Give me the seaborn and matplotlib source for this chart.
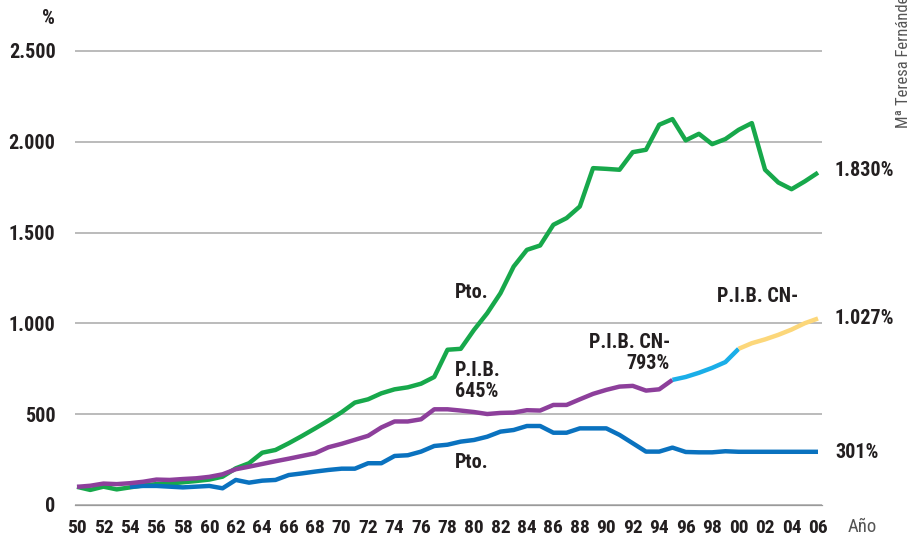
import numpy as np
import pandas as pd
import matplotlib
matplotlib.use("Agg")
import matplotlib.pyplot as plt
import seaborn as sb

# series values (index 1950 = 100)
years = list(range(1950, 2007))
pto_green = [100, 83, 101, 86, 97, 108, 115, 118, 125, 132,
             140, 156, 202, 230, 288, 303, 340, 380, 422, 465,
             511, 564, 582, 615, 637, 648, 668, 705, 855, 860,
             964, 1056, 1166, 1313, 1405, 1429, 1543, 1580, 1644, 1855,
             1851, 1846, 1943, 1956, 2094, 2125, 2008, 2044, 1987, 2015,
             2066, 2103, 1846, 1776, 1739, 1782, 1830]
pib_years = list(range(1950, 1996))
pib = [100, 106, 118, 115, 120, 128, 140, 138, 143, 147,
       155, 169, 197, 211, 226, 241, 255, 270, 285, 318,
       337, 359, 381, 427, 460, 460, 472, 527, 527, 520,
       512, 501, 507, 509, 522, 520, 551, 551, 582, 612,
       634, 652, 656, 630, 637, 689]
cn95_years = list(range(1995, 2001))
pib_cn95 = [689, 705, 728, 755, 787, 860]
cn00_years = list(range(2000, 2007))
pib_cn00 = [860, 891, 912, 937, 966, 1001, 1027]
pto_blue_years = list(range(1954, 2007))
pto_blue = [100, 105, 105, 101, 97, 101, 105, 92, 138, 123,
            134, 138, 165, 174, 184, 193, 200, 200, 230, 230,
            270, 274, 294, 325, 332, 349, 358, 376, 404, 413,
            435, 435, 398, 398, 422, 422, 422, 386, 340, 294,
            294, 316, 292, 290, 290, 296, 293, 293, 293, 293,
            293, 293, 293]

y_ticks = [0, 500, 1000, 1500, 2000, 2500]
y_ticklabels = ['0', '500', '1.000', '1.500', '2.000', '2.500']

df = pd.concat([
    pd.DataFrame({'year': years, 'value': pto_green, 'serie': 'Pto.'}),
    pd.DataFrame({'year': pto_blue_years, 'value': pto_blue, 'serie': 'Pto. azul'}),
    pd.DataFrame({'year': pib_years, 'value': pib, 'serie': 'P.I.B.'}),
    pd.DataFrame({'year': cn95_years, 'value': pib_cn95, 'serie': 'P.I.B. CN-95'}),
    pd.DataFrame({'year': cn00_years, 'value': pib_cn00, 'serie': 'P.I.B. CN-00'}),
])
colores = {'Pto.': '#17a84b', 'Pto. azul': '#0a72bf', 'P.I.B.': '#8d3f9b',
           'P.I.B. CN-95': '#1aaee8', 'P.I.B. CN-00': '#fcd77a'}

sb.set_style('white')
plt.rcParams['font.family'] = ['Roboto Condensed', 'Open Sans Condensed', 'Roboto', 'DejaVu Sans']
plt.rcParams['font.stretch'] = 'condensed'
tc = '#231f20'

W, H = 909, 537
fig = plt.figure(figsize=(W / 100, H / 100), dpi=100)
ax = fig.add_axes([75 / W, 32 / H, (822 - 75) / W, (505 - 40) / H])

sb.lineplot(data=df, x='year', y='value', hue='serie', palette=colores,
            hue_order=list(colores.keys()), linewidth=3.2, legend=False, ax=ax,
            solid_capstyle='butt')

pxy = (818 - 77) / 56
ax.set_xlim(1950 - 2 / pxy, 2006 + 4 / pxy)
ax.set_ylim(0, 2500 * 465 / 454)
ax.set_xticks(years)
ax.set_xticklabels([f"{y % 100:02d}" if y % 2 == 0 else '' for y in years],
                   fontsize=14, fontweight='bold', color=tc)
ax.set_yticks(y_ticks)
ax.set_yticklabels(y_ticklabels, fontsize=14.5, fontweight='bold', color=tc)
ax.tick_params(axis='x', direction='in', length=6.5, width=0.8, color='#9a9a9a', pad=10)
ax.tick_params(axis='y', length=0, pad=14)
ax.grid(axis='y', color='#a8a8a8', linewidth=1.1)
ax.set_axisbelow(True)
ax.set_xlabel('')
ax.set_ylabel('')
for s in ['top', 'right', 'left']:
    ax.spines[s].set_visible(False)
ax.spines['bottom'].set_color('#9a9a9a')
ax.spines['bottom'].set_linewidth(0.9)


def txt(x, y, s, **kw):
    opts = dict(fontsize=14.5, fontweight='bold', color=tc, va='center', ha='left')
    opts.update(kw)
    fig.text(x / W, 1 - y / H, s, **opts)


txt(48, 19, '%', ha='center')
txt(848, 527, 'Año', fontweight='normal', color='#555555', fontsize=13.5)
txt(455, 292, 'Pto.')
txt(455, 381, 'P.I.B.\n645%', linespacing=1.1)
txt(455, 462, 'Pto.')
txt(670, 353, 'P.I.B. CN-\n793%', ha='right', multialignment='right', linespacing=1.1)
txt(717, 296, 'P.I.B. CN-')
txt(835, 170, '1.830%')
txt(835, 318, '1.027%')
txt(835, 452, '301%')
fig.text(904 / W, 1 - 128 / H, 'Mª Teresa Fernández', rotation=90, ha='center', va='bottom',
         fontsize=12, color='#555555')

fig.savefig('out.png', dpi=100)
